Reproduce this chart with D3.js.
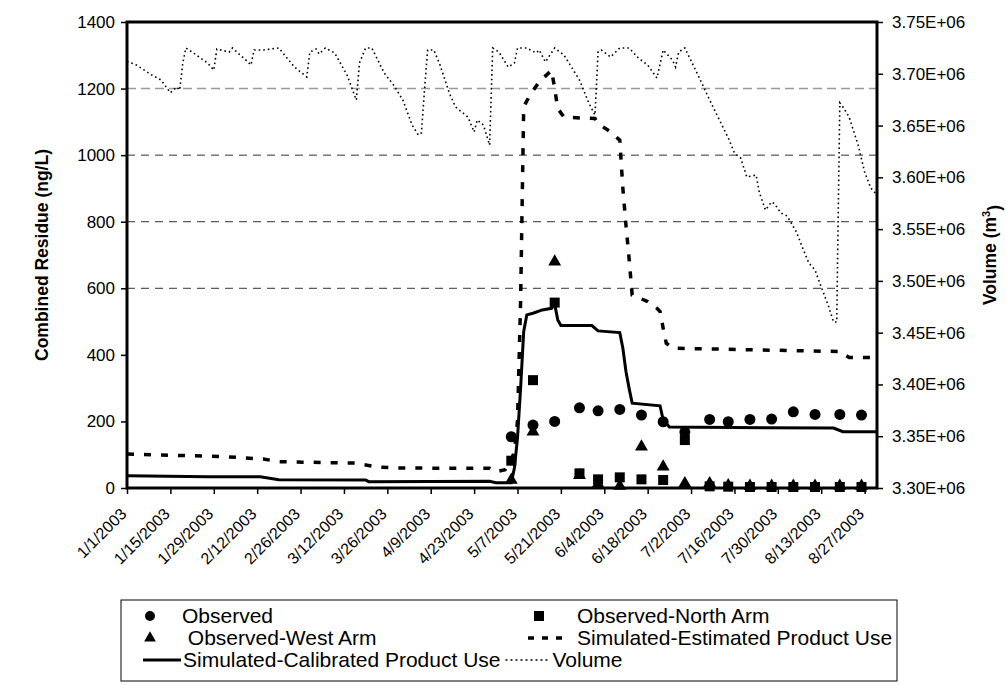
<!DOCTYPE html>
<html>
<head>
<meta charset="utf-8">
<script src="https://cdn.jsdelivr.net/npm/d3@7"></script>
<style>
    body { margin: 0; background: #fff; }
    svg { display: block; font-family: "Liberation Sans", Arial, sans-serif; }
</style>
</head>
<body>
<div id="chart"></div>
<script>
// Combined residue vs. reservoir volume, Jan-Aug 2003

const xTickLabels = ['1/1/2003', '1/15/2003', '1/29/2003', '2/12/2003', '2/26/2003', '3/12/2003',
    '3/26/2003', '4/9/2003', '4/23/2003', '5/7/2003', '5/21/2003', '6/4/2003', '6/18/2003',
    '7/2/2003', '7/16/2003', '7/30/2003', '8/13/2003', '8/27/2003'];
const leftTicks = [0, 200, 400, 600, 800, 1000, 1200, 1400];
const rightTicks = [3300000, 3350000, 3400000, 3450000, 3500000, 3550000, 3600000, 3650000, 3700000, 3750000];
const gridValues = [600, 800, 1000, 1200];

const sampleDates = ['5/5/2003', '5/12/2003', '5/19/2003', '5/27/2003', '6/2/2003', '6/9/2003',
    '6/16/2003', '6/23/2003', '6/30/2003', '7/8/2003', '7/14/2003', '7/21/2003', '7/28/2003',
    '8/4/2003', '8/11/2003', '8/19/2003', '8/26/2003'];
const observedValues = [154, 189, 200, 241, 232, 236, 219, 199, 168, 206, 199, 206, 207, 229, 221, 221, 219];
const northArmValues = [82, 324, 557, 44, 26, 32, 26, 24, 144, 5, 4, 3, 3, 3, 3, 3, 3];
const westArmValues = [24, 169, 680, 38, 12, 6, 124, 64, 14, 14, 8, 6, 6, 6, 6, 6, 6];

const estimatedDates = ['1/1/2003', '1/21/2003', '2/2/2003', '2/14/2003', '2/19/2003', '3/15/2003',
    '3/19/2003', '3/23/2003', '3/30/2003', '4/28/2003', '4/30/2003', '5/3/2003', '5/5/2003',
    '5/6/2003', '5/7/2003', '5/8/2003', '5/9/2003', '5/11/2003', '5/14/2003', '5/18/2003',
    '5/19/2003', '5/20/2003', '5/22/2003', '6/1/2003', '6/2/2003', '6/6/2003', '6/9/2003',
    '6/10/2003', '6/11/2003', '6/12/2003', '6/13/2003', '6/18/2003', '6/21/2003', '6/22/2003',
    '6/23/2003', '6/24/2003', '6/26/2003', '8/19/2003', '8/22/2003', '8/31/2003'];
const estimatedValues = [102, 97, 94, 87, 79, 75, 69, 63, 60, 59, 49, 55, 84, 110, 200, 560, 1145,
    1180, 1220, 1255, 1200, 1140, 1114, 1110, 1095, 1070, 1045, 900, 790, 690, 580, 560, 540, 530,
    480, 435, 420, 410, 392, 392];

const calibratedDates = ['1/1/2003', '1/27/2003', '2/13/2003', '2/19/2003', '3/19/2003', '3/20/2003',
    '4/28/2003', '4/30/2003', '5/5/2003', '5/6/2003', '5/7/2003', '5/8/2003', '5/9/2003',
    '5/10/2003', '5/12/2003', '5/15/2003', '5/18/2003', '5/19/2003', '5/20/2003', '5/21/2003',
    '5/31/2003', '6/2/2003', '6/9/2003', '6/10/2003', '6/11/2003', '6/12/2003', '6/13/2003',
    '6/22/2003', '6/23/2003', '6/25/2003', '8/17/2003', '8/20/2003', '8/31/2003'];
const calibratedValues = [37, 34, 34, 25, 24, 19, 20, 16, 16, 60, 150, 300, 470, 520, 525, 535, 540,
    552, 505, 488, 488, 472, 467, 420, 350, 300, 255, 247, 205, 183, 180, 169, 169];

const volumeDates = ['1/1/2003', '1/4/2003', '1/9/2003', '1/12/2003', '1/15/2003', '1/17/2003',
    '1/18/2003', '1/19/2003', '1/20/2003', '1/22/2003', '1/27/2003', '1/29/2003', '1/30/2003',
    '2/3/2003', '2/4/2003', '2/9/2003', '2/10/2003', '2/11/2003', '2/14/2003', '2/19/2003',
    '2/24/2003', '2/28/2003', '3/1/2003', '3/3/2003', '3/4/2003', '3/6/2003', '3/9/2003',
    '3/13/2003', '3/16/2003', '3/17/2003', '3/19/2003', '3/21/2003', '3/25/2003', '3/28/2003',
    '3/31/2003', '4/3/2003', '4/5/2003', '4/6/2003', '4/7/2003', '4/8/2003', '4/10/2003',
    '4/12/2003', '4/15/2003', '4/17/2003', '4/21/2003', '4/23/2003', '4/24/2003', '4/26/2003',
    '4/28/2003', '4/29/2003', '5/1/2003', '5/4/2003', '5/6/2003', '5/7/2003', '5/10/2003',
    '5/13/2003', '5/14/2003', '5/16/2003', '5/19/2003', '5/22/2003', '5/24/2003', '5/27/2003',
    '5/30/2003', '6/1/2003', '6/2/2003', '6/3/2003', '6/6/2003', '6/9/2003', '6/12/2003',
    '6/15/2003', '6/18/2003', '6/21/2003', '6/23/2003', '6/26/2003', '6/27/2003', '6/28/2003',
    '6/30/2003', '7/5/2003', '7/8/2003', '7/14/2003', '7/16/2003', '7/18/2003', '7/20/2003',
    '7/23/2003', '7/24/2003', '7/26/2003', '7/28/2003', '7/29/2003', '7/31/2003', '8/2/2003',
    '8/5/2003', '8/7/2003', '8/9/2003', '8/11/2003', '8/13/2003', '8/15/2003', '8/17/2003',
    '8/18/2003', '8/19/2003', '8/20/2003', '8/22/2003', '8/25/2003', '8/27/2003', '8/29/2003',
    '8/31/2003'];
const volumeValues = [3712000, 3708500, 3698800, 3694000, 3681700, 3687200, 3684300, 3710400, 3724900,
    3721000, 3710400, 3703600, 3723900, 3721000, 3724900, 3711400, 3708500, 3723000, 3723000, 3724900,
    3706500, 3696900, 3721000, 3723900, 3719100, 3724900, 3720100, 3698800, 3674700, 3710400, 3724900,
    3724900, 3700700, 3689200, 3674700, 3650500, 3640900, 3642800, 3684300, 3723000, 3723000, 3708500,
    3681400, 3667900, 3658300, 3643800, 3655400, 3650500, 3631200, 3724900, 3721000, 3706500, 3710400,
    3724900, 3724900, 3720100, 3723000, 3711400, 3724900, 3718100, 3708500, 3694000, 3671800, 3660200,
    3721000, 3723000, 3716200, 3724900, 3724900, 3715200, 3708500, 3695900, 3723000, 3713300, 3706500,
    3721000, 3724900, 3694000, 3674700, 3638000, 3623500, 3618700, 3600300, 3602200, 3585800, 3568400,
    3576200, 3574200, 3565600, 3562700, 3547200, 3531800, 3517300, 3510500, 3494100, 3478600, 3460300,
    3460300, 3672000, 3668000, 3658300, 3630300, 3605100, 3589700, 3582900];

class ResidueChart {
    constructor() {
        this.width = 1006;
        this.height = 685;
        this.plot = { left: 127, right: 877, top: 22, bottom: 488 };
        this.parse = d3.timeParse('%m/%d/%Y');

        this.svg = d3.select('#chart').append('svg')
            .attr('width', this.width)
            .attr('height', this.height);

        this.x = d3.scaleTime()
            .domain([this.parse('1/1/2003'), this.parse('8/31/2003')])
            .range([this.plot.left, this.plot.right]);
        this.yLeft = d3.scaleLinear().domain([0, 1400]).range([this.plot.bottom, this.plot.top]);
        this.yRight = d3.scaleLinear().domain([3300000, 3750000]).range([this.plot.bottom, this.plot.top]);

        this.drawGrid();
        this.drawLines();
        this.drawMarkers();
        this.drawAxes();
        this.drawLegend();
    }

    pairs(dates, values) {
        return dates.map((d, i) => ({ date: this.parse(d), value: values[i] }));
    }

    drawGrid() {
        this.svg.append('g')
            .selectAll('line')
            .data(gridValues)
            .join('line')
            .attr('x1', this.plot.left)
            .attr('x2', this.plot.right)
            .attr('y1', d => this.yLeft(d))
            .attr('y2', d => this.yLeft(d))
            .attr('stroke', d => d === 1200 ? '#999' : '#333')
            .attr('stroke-width', d => d === 1200 ? 1.5 : 1)
            .attr('stroke-dasharray', d => d === 1200 ? '9,5' : '8,6');
    }

    drawLines() {
        const lineL = d3.line().x(d => this.x(d.date)).y(d => this.yLeft(d.value));
        const lineR = d3.line().x(d => this.x(d.date)).y(d => this.yRight(d.value));

        this.svg.append('path')
            .datum(this.pairs(volumeDates, volumeValues))
            .attr('d', lineR)
            .attr('fill', 'none')
            .attr('stroke', '#000')
            .attr('stroke-width', 1.6)
            .attr('stroke-dasharray', '1.6,3');

        this.svg.append('path')
            .datum(this.pairs(estimatedDates, estimatedValues))
            .attr('d', lineL)
            .attr('fill', 'none')
            .attr('stroke', '#000')
            .attr('stroke-width', 3.5)
            .attr('stroke-dasharray', '7,10');

        this.svg.append('path')
            .datum(this.pairs(calibratedDates, calibratedValues))
            .attr('d', lineL)
            .attr('fill', 'none')
            .attr('stroke', '#000')
            .attr('stroke-width', 3);
    }

    drawMarkers() {
        const g = this.svg.append('g').attr('fill', '#000');
        const tri = d3.symbol(d3.symbolTriangle).size(72)();

        g.selectAll('.west')
            .data(this.pairs(sampleDates, westArmValues))
            .join('path')
            .attr('class', 'west')
            .attr('d', tri)
            .attr('transform', d => `translate(${this.x(d.date)},${this.yLeft(d.value)})`);

        g.selectAll('.north')
            .data(this.pairs(sampleDates, northArmValues))
            .join('rect')
            .attr('class', 'north')
            .attr('width', 10)
            .attr('height', 10)
            .attr('x', d => this.x(d.date) - 5)
            .attr('y', d => this.yLeft(d.value) - 5);

        g.selectAll('.observed')
            .data(this.pairs(sampleDates, observedValues))
            .join('circle')
            .attr('class', 'observed')
            .attr('r', 5.5)
            .attr('cx', d => this.x(d.date))
            .attr('cy', d => this.yLeft(d.value));
    }

    drawAxes() {
        const p = this.plot;

        this.svg.append('g')
            .attr('transform', `translate(${p.left},0)`)
            .call(d3.axisLeft(this.yLeft).tickValues(leftTicks).tickSize(6).tickSizeOuter(0).tickPadding(6)
                .tickFormat(d3.format('d')))
            .call(g => g.select('.domain').remove())
            .call(g => g.selectAll('line').attr('stroke-width', 1.5))
            .call(g => g.selectAll('text').attr('font-size', 17).attr('fill', '#000'));

        this.svg.append('g')
            .attr('transform', `translate(${p.right},0)`)
            .call(d3.axisRight(this.yRight).tickValues(rightTicks).tickSize(6).tickSizeOuter(0).tickPadding(9)
                .tickFormat(d => (d / 1e6).toFixed(2) + 'E+06'))
            .call(g => g.select('.domain').remove())
            .call(g => g.selectAll('line').attr('stroke-width', 1.5))
            .call(g => g.selectAll('text').attr('font-size', 17).attr('fill', '#000'));

        this.svg.append('g')
            .attr('transform', `translate(0,${p.bottom})`)
            .call(d3.axisBottom(this.x).tickValues(xTickLabels.map(this.parse)).tickSize(6).tickSizeOuter(0)
                .tickFormat(d3.timeFormat('%-m/%-d/%Y')))
            .call(g => g.select('.domain').remove())
            .call(g => g.selectAll('line').attr('stroke-width', 1.5))
            .call(g => g.selectAll('text')
                .attr('font-size', 16)
                .attr('fill', '#000')
                .attr('text-anchor', 'end')
                .attr('x', 0).attr('y', 0).attr('dy', '0.35em')
                .attr('transform', 'translate(-4,23) rotate(-45)'));

        // heavy plot frame
        this.svg.append('rect')
            .attr('x', p.left)
            .attr('y', p.top)
            .attr('width', p.right - p.left)
            .attr('height', p.bottom - p.top)
            .attr('fill', 'none')
            .attr('stroke', '#000')
            .attr('stroke-width', 3);

        this.svg.append('text')
            .attr('transform', `translate(42,${(p.top + p.bottom) / 2}) rotate(-90)`)
            .attr('text-anchor', 'middle')
            .attr('dy', '0.35em')
            .attr('font-size', 17.5)
            .attr('font-weight', 'bold')
            .text('Combined Residue (ng/L)');

        const vt = this.svg.append('text')
            .attr('transform', `translate(990,${(p.top + p.bottom) / 2}) rotate(-90)`)
            .attr('text-anchor', 'middle')
            .attr('dy', '0.35em')
            .attr('font-size', 17.5)
            .attr('font-weight', 'bold');
        vt.append('tspan').text('Volume (m');
        vt.append('tspan').attr('font-size', 11).attr('dy', '-0.6em').text('3');
        vt.append('tspan').attr('dy', '0.6em').text(')');
    }

    drawLegend() {
        const lg = this.svg.append('g').attr('font-size', 21);
        const rows = [616, 638, 660];

        lg.append('rect')
            .attr('x', 121).attr('y', 600)
            .attr('width', 776).attr('height', 81)
            .attr('fill', '#fff')
            .attr('stroke', '#000')
            .attr('stroke-width', 1);

        const label = (x, y, txt) => lg.append('text')
            .attr('x', x).attr('y', y).attr('dy', '0.35em')
            .attr('xml:space', 'preserve')
            .text(txt);

        lg.append('circle').attr('cx', 150).attr('cy', rows[0]).attr('r', 5);
        label(182, rows[0], 'Observed');

        lg.append('rect').attr('x', 534).attr('y', rows[0] - 5).attr('width', 10).attr('height', 10);
        label(577, rows[0], 'Observed-North Arm');

        lg.append('path')
            .attr('d', d3.symbol(d3.symbolTriangle).size(60)())
            .attr('transform', `translate(150,${rows[1]})`);
        label(182, rows[1], ' Observed-West Arm');

        lg.append('line')
            .attr('x1', 528).attr('x2', 568).attr('y1', rows[1]).attr('y2', rows[1])
            .attr('stroke', '#000').attr('stroke-width', 3.5).attr('stroke-dasharray', '6,8');
        label(577, rows[1], 'Simulated-Estimated Product Use');

        lg.append('line')
            .attr('x1', 143).attr('x2', 181).attr('y1', rows[2]).attr('y2', rows[2])
            .attr('stroke', '#000').attr('stroke-width', 3);
        const calText = label(183, rows[2], 'Simulated-Calibrated Product Use');

        const end = 183 + calText.node().getComputedTextLength();
        lg.append('line')
            .attr('x1', end + 5).attr('x2', end + 48).attr('y1', rows[2]).attr('y2', rows[2])
            .attr('stroke', '#000').attr('stroke-width', 1.3).attr('stroke-dasharray', '2,3');
        label(end + 52, rows[2], 'Volume');
    }
}

document.addEventListener('DOMContentLoaded', () => {
    window.residueChart = new ResidueChart();
});
</script>
</body>
</html>
